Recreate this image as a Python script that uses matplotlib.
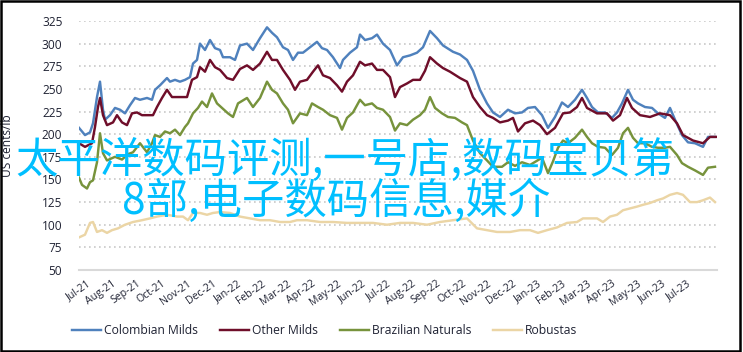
import matplotlib
matplotlib.use("Agg")
import matplotlib.pyplot as plt
from matplotlib.patches import Rectangle

plt.rcParams['font.family'] = ['Open Sans', 'DejaVu Sans']

# x = months since 1 Jul 2021
month_labels = ['Jul-21', 'Aug-21', 'Sep-21', 'Oct-21', 'Nov-21', 'Dec-21',
                'Jan-22', 'Feb-22', 'Mar-22', 'Apr-22', 'May-22', 'Jun-22',
                'Jul-22', 'Aug-22', 'Sep-22', 'Oct-22', 'Nov-22', 'Dec-22',
                'Jan-23', 'Feb-23', 'Mar-23', 'Apr-23', 'May-23', 'Jun-23', 'Jul-23']

colombian_x = [0.00, 0.24, 0.44, 0.56, 0.72, 0.84, 0.96, 1.04, 1.24, 1.44, 1.64, 1.84,
               2.04, 2.24, 2.44, 2.72, 2.92, 3.04, 3.24, 3.52, 3.64, 3.84, 4.04, 4.24,
               4.44, 4.56, 4.72, 4.84, 5.04, 5.24, 5.44, 5.64, 5.76, 6.04, 6.24, 6.44,
               6.72, 6.96, 7.24, 7.52, 7.72, 7.92, 8.16, 8.36, 8.56, 8.76, 8.96, 9.24,
               9.52, 9.72, 9.92, 10.16, 10.44, 10.56, 10.84, 11.12, 11.24, 11.44, 11.72,
               11.92, 12.16, 12.44, 12.72, 12.96, 13.24, 13.52, 13.76, 14.04, 14.32,
               14.56, 14.96, 15.24, 15.52, 15.76, 16.04, 16.32, 16.56, 16.84, 17.16,
               17.44, 17.72, 17.96, 18.24, 18.52, 18.76, 19.04, 19.32, 19.56, 19.84,
               20.12, 20.32, 20.52, 20.76, 21.04, 21.32, 21.52, 21.72, 21.96, 22.16,
               22.36, 22.64, 22.92, 23.16, 23.44, 23.64, 23.84, 24.12, 24.36, 24.64,
               24.96, 25.16, 25.44]
colombian_y = [207, 199, 202, 212, 241, 258, 227, 216, 221, 229, 227, 223,
               232, 240, 238, 240, 238, 249, 254, 262, 258, 260, 258, 260,
               263, 278, 282, 300, 293, 304, 295, 293, 285, 285, 282, 298,
               300, 293, 306, 318, 312, 307, 296, 293, 282, 290, 290, 296,
               302, 295, 293, 285, 273, 282, 290, 296, 310, 304, 306,
               310, 300, 293, 276, 285, 287, 290, 296, 314, 306,
               298, 291, 288, 282, 270, 249, 234, 224, 219, 227,
               223, 224, 229, 230, 221, 207, 219, 235, 230, 238,
               249, 240, 230, 224, 224, 218, 224, 234, 249, 238,
               234, 230, 229, 223, 218, 229, 216, 199, 191, 190,
               186, 197, 197]

other_x = [0.00, 0.24, 0.52, 0.64, 0.76, 0.84, 0.96, 1.12, 1.36, 1.52, 1.72, 1.92,
           2.12, 2.32, 2.52, 2.76, 2.96, 3.12, 3.32, 3.52, 3.72, 3.92, 4.12, 4.32,
           4.52, 4.72, 4.84, 5.04, 5.24, 5.44, 5.64, 5.92, 6.16, 6.44, 6.72, 6.96,
           7.24, 7.52, 7.72, 7.92, 8.16, 8.44, 8.64, 8.84, 9.12, 9.36, 9.56, 9.76,
           10.04, 10.32, 10.52, 10.72, 10.96, 11.24, 11.44, 11.72, 11.92, 12.16,
           12.44, 12.64, 12.84, 13.12, 13.36, 13.64, 13.84, 14.04, 14.32, 14.56,
           14.84, 15.24, 15.52, 15.76, 16.04, 16.32, 16.56, 16.84, 17.16, 17.36,
           17.56, 17.84, 18.16, 18.44, 18.72, 19.04, 19.36, 19.64, 19.92, 20.12,
           20.32, 20.72, 21.12, 21.36, 21.64, 21.92, 22.12, 22.44, 22.84, 23.24,
           23.64, 23.92, 24.16, 24.56, 24.96, 25.24, 25.52]
other_y = [190, 186, 190, 208, 230, 240, 221, 210, 213, 221, 213, 210,
           223, 224, 221, 221, 221, 230, 240, 249, 241, 241, 241, 241,
           260, 263, 274, 269, 282, 274, 271, 262, 260, 272, 276, 271,
           278, 291, 282, 282, 271, 260, 249, 258, 260, 269, 276, 265,
           262, 254, 247, 258, 265, 280, 276, 278, 271, 271,
           263, 241, 252, 256, 260, 260, 270, 285, 278, 273,
           269, 262, 258, 241, 230, 221, 218, 213, 215, 218,
           203, 212, 215, 210, 200, 207, 223, 224, 230, 240,
           229, 223, 223, 215, 221, 240, 229, 221, 219, 223,
           221, 212, 199, 193, 190, 197, 197]

brazil_x = [0.00, 0.12, 0.32, 0.44, 0.56, 0.72, 0.84, 0.96, 1.12, 1.44, 1.72, 1.96,
            2.16, 2.44, 2.72, 2.92, 3.04, 3.24, 3.44, 3.64, 3.84, 4.04, 4.24, 4.36,
            4.56, 4.76, 4.92, 5.12, 5.32, 5.52, 5.72, 5.96, 6.16, 6.36, 6.72, 6.96,
            7.24, 7.52, 7.72, 7.92, 8.16, 8.36, 8.56, 8.84, 9.12, 9.32, 9.56, 9.76,
            10.04, 10.32, 10.52, 10.72, 10.96, 11.24, 11.44, 11.72, 11.92, 12.16,
            12.44, 12.64, 12.84, 13.12, 13.36, 13.64, 13.84, 14.04, 14.24, 14.52,
            14.76, 15.04, 15.32, 15.52, 15.76, 16.04, 16.32, 16.56, 16.92, 17.16,
            17.44, 17.72, 18.04, 18.52, 18.76, 18.96, 19.16, 19.36, 19.56, 19.84,
            20.12, 20.32, 20.52, 20.76, 21.04, 21.32, 21.56, 21.76, 21.96, 22.16,
            22.36, 22.64, 22.92, 23.16, 23.44, 23.64, 23.92, 24.12, 24.36, 24.64,
            24.96, 25.16, 25.44]
brazil_y = [152, 144, 140, 147, 149, 169, 201, 179, 171, 175, 172, 178,
            180, 190, 180, 190, 199, 197, 203, 201, 205, 199, 208, 212,
            223, 229, 236, 230, 245, 234, 229, 223, 219, 234, 240, 230,
            240, 258, 249, 245, 234, 227, 212, 223, 221, 234, 230, 227,
            221, 218, 205, 218, 224, 238, 232, 234, 229, 227,
            219, 204, 212, 210, 216, 221, 227, 241, 229, 223,
            219, 218, 213, 210, 193, 179, 171, 164, 164, 169,
            165, 169, 166, 174, 157, 170, 185, 193, 190, 196,
            205, 197, 190, 186, 185, 177, 185, 201, 207, 196,
            190, 190, 186, 185, 185, 186, 177, 168, 164, 160,
            155, 163, 164]

robusta_x = [0.00, 0.24, 0.44, 0.56, 0.72, 0.92, 1.12, 1.32, 1.56, 1.84, 2.16, 2.52,
             2.84, 3.12, 3.52, 3.92, 4.16, 4.36, 4.56, 4.84, 5.12, 5.36, 5.64, 6.04,
             6.44, 6.84, 7.24, 7.64, 8.04, 8.44, 8.72, 9.12, 9.64, 10.16, 10.72,
             11.24, 11.76, 12.32, 12.84, 13.36, 13.92, 14.44, 14.96, 15.52, 15.92,
             16.32, 16.72, 17.24, 17.64, 18.04, 18.36, 18.72, 19.12, 19.52, 19.92,
             20.16, 20.44, 20.72, 20.96, 21.24, 21.52, 21.76, 22.04, 22.32, 22.56,
             22.84, 23.12, 23.36, 23.64, 23.92, 24.16, 24.44, 24.72, 24.96, 25.24,
             25.44]
robusta_y = [86, 89, 102, 103, 92, 94, 91, 94, 96, 100, 103, 105,
             107, 109, 111, 109, 109, 105, 113, 113, 111, 113, 114, 113,
             109, 107, 105, 105, 103, 103, 105, 105, 103, 103, 102,
             102, 102, 100, 102, 102, 100, 103, 105, 107, 96,
             94, 92, 92, 94, 94, 91, 94, 97, 102, 103,
             107, 107, 107, 103, 109, 111, 116, 118, 120, 122,
             124, 127, 129, 133, 135, 133, 125, 125, 127, 130,
             125]

series = [
    ('Colombian Milds', colombian_x, colombian_y, '#4F81BD'),
    ('Other Milds', other_x, other_y, '#6F0E2A'),
    ('Brazilian Naturals', brazil_x, brazil_y, '#77933C'),
    ('Robustas', robusta_x, robusta_y, '#EBD5A5'),
]

fig = plt.figure(figsize=(7.43, 3.52), dpi=100)
ax = fig.add_axes([79 / 743, 1 - 270 / 352, 638 / 743, 249 / 352])

for name, xs, ys, col in series:
    ax.plot(xs, ys, color=col, lw=1.75, label=name, solid_joinstyle='round')

ax.set_xlim(0, 25.52)
ax.set_ylim(50, 325)
ax.set_yticks(range(50, 326, 25))
ax.yaxis.grid(True, linestyle=(0, (1, 2)), color='#c8c8c8', lw=1.2)
ax.set_axisbelow(True)
for s in ['top', 'right', 'left']:
    ax.spines[s].set_visible(False)
ax.spines['bottom'].set_color('#d9d9d9')
ax.spines['bottom'].set_linewidth(1.5)

tick_color = '#1f2233'
ax.tick_params(axis='y', length=0, pad=12, labelsize=8.6, labelcolor=tick_color)
ax.set_xticks([k + 0.44 for k in range(len(month_labels))])
ax.set_xticklabels(month_labels, rotation=35, ha='right', va='center',
                   rotation_mode='anchor', fontsize=7.6, color=tick_color)
ax.tick_params(axis='x', length=0, pad=9)
ax.set_ylabel('US cents/lb', fontsize=8.6, color=tick_color, labelpad=20)

fig.legend(loc='center', bbox_to_anchor=(325 / 743, 1 - 331 / 352), ncol=4,
           frameon=False, fontsize=8.7, handlelength=2.4, handletextpad=0.25,
           columnspacing=1.8, labelcolor=tick_color)

overlay = '#00BFFF'
fig.text(345 / 743, 1 - 161 / 352, '太平洋数码评测,一号店,数码宝贝第',
         family=['Noto Sans CJK SC', 'DejaVu Sans'], fontsize=30.5,
         color=overlay, ha='center', va='center')
fig.text(336 / 743, 1 - 202 / 352, '8部,电子数码信息,媒介',
         family=['Noto Sans CJK SC', 'DejaVu Sans'], fontsize=30.5,
         color=overlay, ha='center', va='center')

fig.patches.append(Rectangle((0.002, 0.004), 0.994, 0.992, transform=fig.transFigure,
                             fill=False, edgecolor='black', lw=1.8))

fig.savefig('out.png', dpi=100)
